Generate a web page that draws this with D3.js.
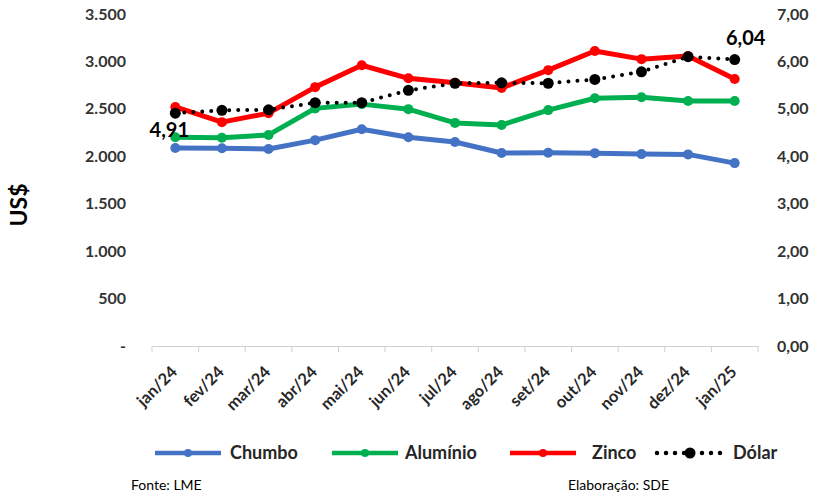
<!DOCTYPE html>
<html>
<head>
<meta charset="utf-8">
<script src="https://cdn.jsdelivr.net/npm/d3@7"></script>
<style>
  body { margin: 0; background: #fff; }
  svg text { font-family: Lato, "Open Sans", sans-serif; }
</style>
</head>
<body>
<svg id="chart" width="820" height="497"></svg>
<script>
var months = ["jan/24","fev/24","mar/24","abr/24","mai/24","jun/24","jul/24","ago/24","set/24","out/24","nov/24","dez/24","jan/25"];
var chumbo = [2087, 2085, 2076, 2170, 2285, 2200, 2150, 2035, 2037, 2033, 2023, 2020, 1928];
var aluminio = [2200, 2195, 2225, 2505, 2550, 2497, 2352, 2330, 2487, 2612, 2622, 2582, 2582];
var zinco = [2520, 2360, 2455, 2729, 2960, 2822, 2775, 2720, 2908, 3110, 3024, 3056, 2814];
var dolar = [4.91, 4.97, 4.98, 5.13, 5.13, 5.39, 5.54, 5.55, 5.54, 5.62, 5.78, 6.10, 6.04];
var leftTicks = [0, 500, 1000, 1500, 2000, 2500, 3000, 3500];
var rightTicks = [0, 1, 2, 3, 4, 5, 6, 7];

var svg = d3.select("#chart");

var x = d3.scaleBand().domain(months).range([152, 758]);
var yL = d3.scaleLinear().domain([0, 3500]).range([346, 14]);
var yR = d3.scaleLinear().domain([0, 7]).range([346, 14]);

function cx(d, i) { return x(months[i]) + x.bandwidth() / 2; }

// x axis
var xAxis = svg.append("g")
  .attr("transform", "translate(0,346)")
  .call(d3.axisBottom(x).tickSize(0).tickFormat(""));
xAxis.select(".domain").attr("stroke", "#d0d0d0");
var bounds = d3.range(months.length + 1).map(function(i) { return 152 + i * x.step(); });
svg.selectAll(".xtick").data(bounds).enter().append("line")
  .attr("x1", function(d) { return d; }).attr("x2", function(d) { return d; })
  .attr("y1", 346).attr("y2", 352)
  .attr("stroke", "#d0d0d0");

svg.selectAll(".xlab").data(months).enter().append("text")
  .attr("transform", function(d) {
    return "translate(" + (x(d) + x.bandwidth() / 2 + 3) + ",373) rotate(-45)";
  })
  .attr("text-anchor", "end")
  .attr("font-size", 16.5).attr("font-weight", "bold").attr("fill", "#262626")
  .text(function(d) { return d; });

// left axis labels
var ptBR = d3.formatLocale({decimal: ",", thousands: ".", grouping: [3], currency: ["R$", ""]});
svg.selectAll(".ylab").data(leftTicks).enter().append("text")
  .attr("x", 126).attr("y", function(d) { return yL(d) + 5.5; })
  .attr("text-anchor", "end")
  .attr("font-size", 16).attr("font-weight", "bold").attr("fill", "#333")
  .text(function(d) { return d === 0 ? "-" : ptBR.format(",")(d); });

svg.selectAll(".yrlab").data(rightTicks).enter().append("text")
  .attr("x", 777).attr("y", function(d) { return yR(d) + 5.5; })
  .attr("text-anchor", "start")
  .attr("font-size", 16).attr("font-weight", "bold").attr("fill", "#333")
  .text(function(d) { return ptBR.format(".2f")(d); });

svg.append("text")
  .attr("transform", "translate(27,205) rotate(-90)")
  .attr("text-anchor", "middle")
  .attr("font-size", 23).attr("font-weight", "bold").attr("fill", "#000")
  .text("US$");

// metal lines
var series = [
  {name: "Chumbo", values: chumbo, color: "#4472C4"},
  {name: "Alumínio", values: aluminio, color: "#00B050"},
  {name: "Zinco", values: zinco, color: "#FF0000"}
];

var lineL = d3.line().x(cx).y(function(d) { return yL(d); });
series.forEach(function(s) {
  svg.append("path").datum(s.values)
    .attr("d", lineL)
    .attr("fill", "none").attr("stroke", s.color).attr("stroke-width", 5)
    .attr("stroke-linejoin", "round");
  svg.selectAll(null).data(s.values).enter().append("circle")
    .attr("cx", cx).attr("cy", function(d) { return yL(d); })
    .attr("r", 5).attr("fill", s.color);
});

// dollar line
var lineR = d3.line().x(cx).y(function(d) { return yR(d); });
svg.append("path").datum(dolar)
  .attr("d", lineR)
  .attr("fill", "none").attr("stroke", "#000").attr("stroke-width", 4)
  .attr("stroke-linecap", "round").attr("stroke-dasharray", "0,9");
svg.selectAll(".dot").data(dolar).enter().append("circle")
  .attr("cx", cx).attr("cy", function(d) { return yR(d); })
  .attr("r", 5.5).attr("fill", "#000");

svg.append("text")
  .attr("x", cx(null, 0) - 6).attr("y", yR(dolar[0]) + 24)
  .attr("text-anchor", "middle")
  .attr("font-size", 20).attr("font-weight", "bold").attr("fill", "#000")
  .text(ptBR.format(".2f")(dolar[0]));
svg.append("text")
  .attr("x", cx(null, 12) + 11).attr("y", yR(dolar[12]) - 15)
  .attr("text-anchor", "middle")
  .attr("font-size", 20).attr("font-weight", "bold").attr("fill", "#000")
  .text(ptBR.format(".2f")(dolar[12]));

// legend
var legend = [
  {name: "Chumbo", color: "#4472C4", x: 155, tx: 230},
  {name: "Alumínio", color: "#00B050", x: 332, tx: 405},
  {name: "Zinco", color: "#FF0000", x: 510, tx: 592},
  {name: "Dólar", color: "#000", x: 657, tx: 733, dotted: true}
];
var lg = svg.selectAll(".leg").data(legend).enter().append("g");
lg.append("line")
  .attr("x1", function(d) { return d.x; }).attr("x2", function(d) { return d.x + 66; })
  .attr("y1", 453).attr("y2", 453)
  .attr("stroke", function(d) { return d.color; })
  .attr("stroke-width", 4.5)
  .attr("stroke-linecap", function(d) { return d.dotted ? "round" : "butt"; })
  .attr("stroke-dasharray", function(d) { return d.dotted ? "0,9" : null; });
lg.append("circle").attr("cx", function(d) { return d.x + 33; }).attr("cy", 453)
  .attr("r", function(d) { return d.dotted ? 5.5 : 4; })
  .attr("fill", function(d) { return d.color; });
lg.append("text")
  .attr("x", function(d) { return d.tx; }).attr("y", 459)
  .attr("font-size", 18).attr("font-weight", "bold").attr("fill", "#262626")
  .text(function(d) { return d.name; });

svg.append("text").attr("x", 131).attr("y", 490)
  .attr("font-size", 14).attr("fill", "#000").text("Fonte: LME");
svg.append("text").attr("x", 568).attr("y", 490)
  .attr("font-size", 14).attr("fill", "#000").text("Elaboração: SDE");
</script>
</body>
</html>
